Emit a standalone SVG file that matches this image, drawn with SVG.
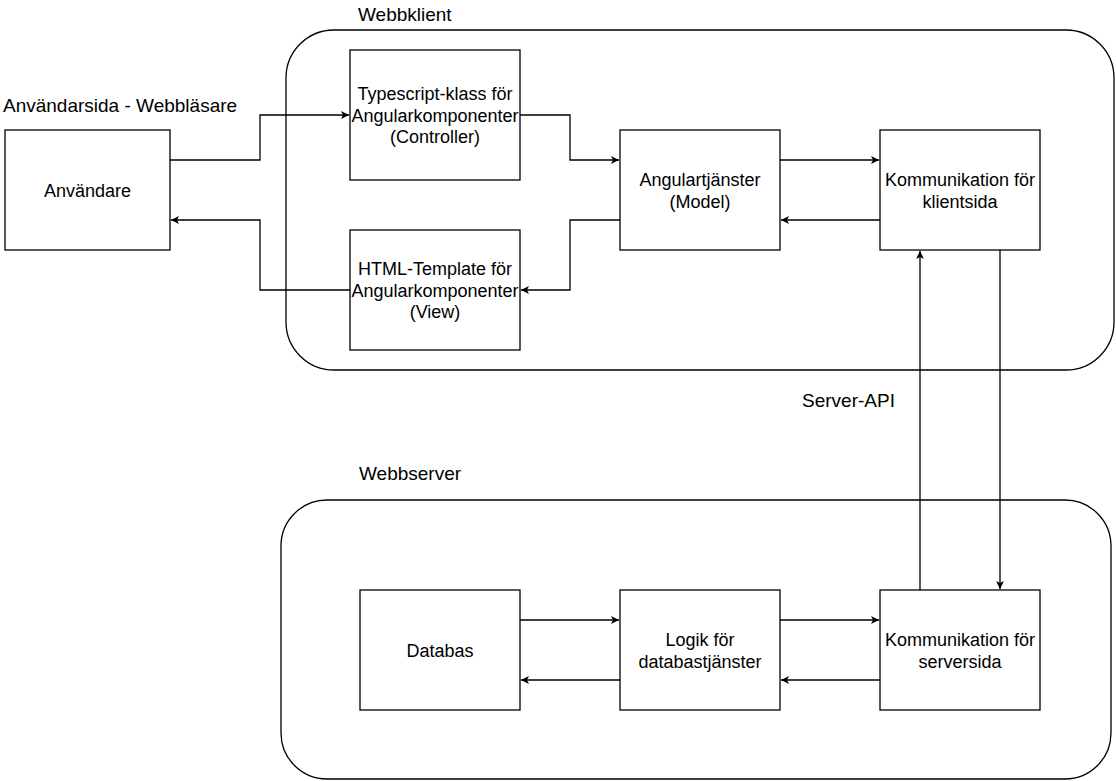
<svg xmlns="http://www.w3.org/2000/svg" width="1116" height="781" viewBox="0 0 1116 781">
<style>
.box{fill:#fff;stroke:#000;stroke-width:1.3}
.grp{fill:none;stroke:#000;stroke-width:1.3}
.t{font-family:"Liberation Sans",Arial,sans-serif;font-size:18px;fill:#000;text-anchor:middle}
.lbl{font-family:"Liberation Sans",Arial,sans-serif;font-size:19px;fill:#000}
.c{fill:none;stroke:#000;stroke-width:1.3}
</style>
<defs>
<marker id="arr" markerWidth="10" markerHeight="10" refX="8" refY="4" orient="auto" markerUnits="userSpaceOnUse">
<path d="M0,0 L8,4 L0,8 L2,4 Z" fill="#000"/>
</marker>
</defs>
<rect width="1116" height="781" fill="#fff"/>
<g id="webbklient">
<rect class="grp" x="286" y="30" width="828" height="340" rx="48" ry="48"/>
<text class="lbl" x="358" y="21">Webbklient</text>
</g>
<g id="webbserver">
<rect class="grp" x="281" y="500" width="830" height="279" rx="46" ry="46"/>
<text class="lbl" x="359" y="480">Webbserver</text>
</g>
<g id="anvandarsida-label">
<text class="lbl" x="3" y="112">Användarsida - Webbläsare</text>
</g>
<g id="server-api-label">
<text class="lbl" x="802" y="407">Server-API</text>
</g>
<g id="connectors">
<path class="c" d="M170,160 H260 V115 H349" marker-end="url(#arr)"/>
<path class="c" d="M350,290 H260 V220 H171" marker-end="url(#arr)"/>
<path class="c" d="M520,115 H570 V160 H619" marker-end="url(#arr)"/>
<path class="c" d="M620,220 H570 V290 H521" marker-end="url(#arr)"/>
<path class="c" d="M780,160 H879" marker-end="url(#arr)"/>
<path class="c" d="M880,220 H781" marker-end="url(#arr)"/>
<path class="c" d="M920,590 V251" marker-end="url(#arr)"/>
<path class="c" d="M1000,250 V589" marker-end="url(#arr)"/>
<path class="c" d="M520,620 H619" marker-end="url(#arr)"/>
<path class="c" d="M620,680 H521" marker-end="url(#arr)"/>
<path class="c" d="M780,620 H879" marker-end="url(#arr)"/>
<path class="c" d="M880,680 H781" marker-end="url(#arr)"/>
</g>
<g id="anvandare">
<rect class="box" x="5" y="130" width="165" height="120"/>
<text class="t" x="87.5" y="196.5">Användare</text>
</g>
<g id="typescript">
<rect class="box" x="350" y="50" width="170" height="130"/>
<text class="t" x="435" y="100">Typescript-klass för</text>
<text class="t" x="435" y="121.5">Angularkomponenter</text>
<text class="t" x="435" y="143">(Controller)</text>
</g>
<g id="html-template">
<rect class="box" x="350" y="230" width="170" height="120"/>
<text class="t" x="435" y="275">HTML-Template för</text>
<text class="t" x="435" y="296.5">Angularkomponenter</text>
<text class="t" x="435" y="318">(View)</text>
</g>
<g id="angulartjanster">
<rect class="box" x="620" y="130" width="160" height="120"/>
<text class="t" x="700" y="186">Angulartjänster</text>
<text class="t" x="700" y="207.5">(Model)</text>
</g>
<g id="kommunikation-klient">
<rect class="box" x="880" y="130" width="160" height="120"/>
<text class="t" x="960" y="186">Kommunikation för</text>
<text class="t" x="960" y="207.5">klientsida</text>
</g>
<g id="databas">
<rect class="box" x="360" y="590" width="160" height="120"/>
<text class="t" x="440" y="656.5">Databas</text>
</g>
<g id="logik">
<rect class="box" x="620" y="590" width="160" height="120"/>
<text class="t" x="700" y="646">Logik för</text>
<text class="t" x="700" y="667.5">databastjänster</text>
</g>
<g id="kommunikation-server">
<rect class="box" x="880" y="590" width="160" height="120"/>
<text class="t" x="960" y="646">Kommunikation för</text>
<text class="t" x="960" y="667.5">serversida</text>
</g>
</svg>
